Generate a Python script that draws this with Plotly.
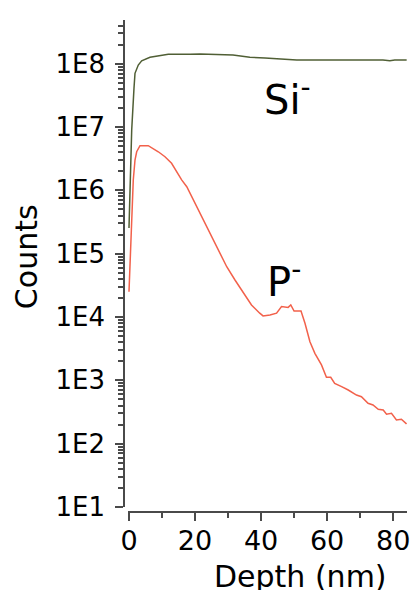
import plotly.graph_objects as go

# Si- depth profile
si_depth = [0.0, 0.82, 1.51, 1.82, 2.81, 3.84, 6.36, 9.38, 11.9, 18.5, 21.5, 31.5, 36.6, 41.2, 50.8, 76.9, 79.0, 80.5, 84.1]
si_counts = [2.54e5, 8.97e6, 4.08e7, 7.05e7, 9.53e7, 1.11e8, 1.26e8, 1.32e8, 1.41e8, 1.41e8, 1.42e8, 1.37e8, 1.26e8, 1.23e8, 1.14e8, 1.14e8, 1.11e8, 1.14e8, 1.14e8]

# P- depth profile
p_depth = [0.0, 0.82, 1.30, 1.82, 2.33, 3.33, 5.84, 8.87, 10.9, 12.9, 15.95, 17.5, 19.98, 22.0, 25.0, 27.0, 29.6, 32.1,
           35.1, 37.1, 39.6, 40.6, 42.7, 44.7, 46.2, 48.2, 49.0, 50.0, 52.1, 53.3, 54.8, 56.3, 58.3, 59.8, 61.1, 62.3,
           64.4, 66.4, 68.9, 70.4, 72.4, 73.9, 75.5, 77.0, 78.0, 79.5, 81.0, 82.5, 84.05]
p_counts = [2.51e4, 2.37e5, 1.46e6, 3.01e6, 4.07e6, 5.07e6, 5.07e6, 4.07e6, 3.40e6, 2.67e6, 1.46e6, 1.14e6, 6.31e5, 3.84e5,
            1.85e5, 1.14e5, 6.22e4, 3.84e4, 2.23e4, 1.55e4, 1.15e4, 1.04e4, 1.08e4, 1.15e4, 1.46e4, 1.42e4, 1.55e4, 1.24e4,
            1.24e4, 7.96e3, 4.07e3, 2.67e3, 1.75e3, 1.12e3, 1.12e3, 898, 794, 703, 586, 552, 434, 408, 349, 340, 291, 302,
            237, 243, 205]

y_tickvals = [1e1, 1e2, 1e3, 1e4, 1e5, 1e6, 1e7, 1e8]
y_ticktext = ["1E1", "1E2", "1E3", "1E4", "1E5", "1E6", "1E7", "1E8"]
x_tickvals = [0, 20, 40, 60, 80]
x_minor_ticks = [10, 30, 50, 70]

# log minor tick positions (2..9 within each decade, up to the top of the axis)
y_minor_ticks = [m * 10 ** d for d in range(1, 9) for m in range(2, 10) if m * 10 ** d < 10 ** 8.69]

FONT = "DejaVu Sans"
AX = "#4a4a4a"

fig = go.Figure()
fig.add_trace(go.Scatter(x=si_depth, y=si_counts, mode="lines",
                         line=dict(color="#505f35", width=1.5), showlegend=False))
fig.add_trace(go.Scatter(x=p_depth, y=p_counts, mode="lines",
                         line=dict(color="#f2614b", width=1.5), showlegend=False))

fig.update_layout(
    width=415, height=590,
    margin=dict(l=124, r=8, t=20, b=78, autoexpand=False),
    paper_bgcolor="white", plot_bgcolor="white",
    font=dict(family=FONT, size=27, color="black"),
    xaxis=dict(
        domain=[4 / 283, 1], anchor="free", position=0, automargin=False,
        range=[-0.3, 84.2], showgrid=False, zeroline=False,
        showline=True, linecolor=AX, linewidth=1.5,
        tickmode="array", tickvals=x_tickvals,
        ticks="outside", ticklen=8, tickcolor=AX, tickwidth=1.5,
        ticklabelstandoff=-3,
        tickfont=dict(family=FONT, size=27, color="black"),
        minor=dict(tickmode="array", tickvals=x_minor_ticks, ticks="outside", ticklen=5,
                   tickcolor=AX, tickwidth=1.5, showgrid=False),
    ),
    yaxis=dict(
        type="log", domain=[5 / 492, 1], anchor="free", position=0, automargin=False,
        range=[1, 8.69], showgrid=False, zeroline=False,
        showline=True, linecolor=AX, linewidth=1.5,
        tickmode="array", tickvals=y_tickvals, ticktext=y_ticktext,
        ticks="outside", ticklen=8, tickcolor=AX, tickwidth=1.5,
        ticklabelstandoff=5,
        tickfont=dict(family=FONT, size=26, color="black"),
        minor=dict(tickmode="array", tickvals=y_minor_ticks, ticks="outside", ticklen=5,
                   tickcolor=AX, tickwidth=1.5, showgrid=False),
    ),
    annotations=[
        dict(text="Si<sup>-</sup>", xref="paper", yref="paper", x=0.4876, y=0.8425,
             xanchor="left", yanchor="middle", showarrow=False, font=dict(family=FONT, size=40, color="black")),
        dict(text="P<sup>-</sup>", xref="paper", yref="paper", x=0.498, y=0.4735,
             xanchor="left", yanchor="middle", showarrow=False, font=dict(family=FONT, size=40, color="black")),
        dict(text="Counts", xref="paper", yref="paper", x=-0.3463, y=0.52, textangle=-90,
             xanchor="center", yanchor="middle", showarrow=False, font=dict(family=FONT, size=30, color="black")),
        dict(text="Depth (nm)", xref="paper", yref="paper", x=0.622, y=-0.131,
             xanchor="center", yanchor="middle", showarrow=False, font=dict(family=FONT, size=30, color="black")),
    ],
)

fig.write_html("out.html", config={"displayModeBar": False},
               post_script="document.body.style.margin='0';document.body.style.padding='0';")
